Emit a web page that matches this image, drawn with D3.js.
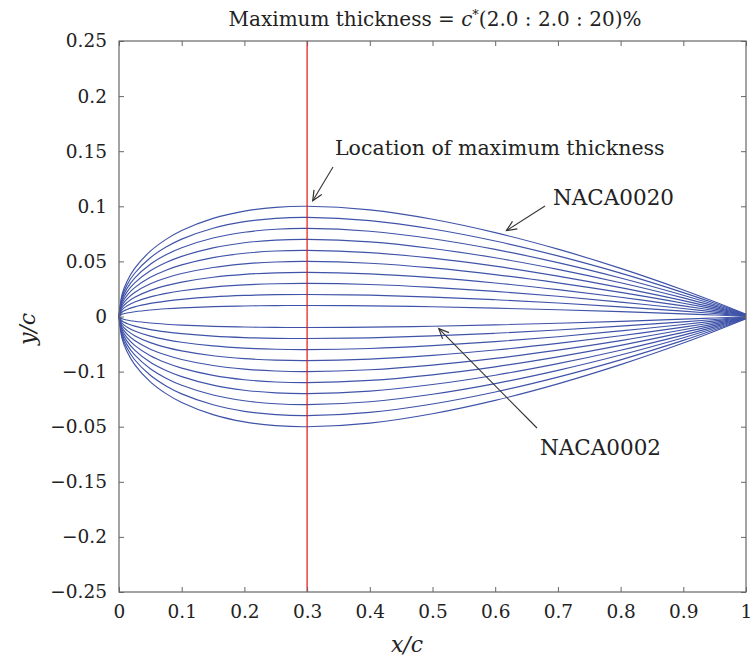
<!DOCTYPE html>
<html>
<head>
<meta charset="utf-8">
<script src="https://cdn.jsdelivr.net/npm/d3@7"></script>
<style>
  body { margin: 0; background: #fff; }
  text { font-family: "DejaVu Serif", "Liberation Serif", serif; fill: #222; }
</style>
</head>
<body>
<svg id="chart"></svg>
<script>
// chord stations and the outer (NACA0020) half thickness
var xStations = [0, 0.005, 0.0125, 0.025, 0.05, 0.075, 0.1, 0.15, 0.2, 0.25, 0.3, 0.4, 0.5, 0.6, 0.7, 0.8, 0.9, 0.95, 1.0];
var outerHalf = [0, 0.0204, 0.0316, 0.0436, 0.0593, 0.070, 0.078, 0.089, 0.0956, 0.099, 0.100, 0.0967, 0.0882, 0.0761, 0.0611, 0.0437, 0.0241, 0.0134, 0.0021];
var outerThickness = 0.20;

// maximum thickness of each airfoil, c*(2.0 : 2.0 : 20)%
var thickness = [0.02, 0.04, 0.06, 0.08, 0.10, 0.12, 0.14, 0.16, 0.18, 0.20];

var maxThicknessLoc = 0.3;

var xTicks = [0, 0.1, 0.2, 0.3, 0.4, 0.5, 0.6, 0.7, 0.8, 0.9, 1];
var xTickLabels = ["0", "0.1", "0.2", "0.3", "0.4", "0.5", "0.6", "0.7", "0.8", "0.9", "1"];
var yTicks = [0.25, 0.2, 0.15, 0.1, 0.05, 0, -0.05, -0.1, -0.15, -0.2, -0.25];
// labels exactly as printed on the original (the two below zero are swapped)
var yTickLabels = ["0.25", "0.2", "0.15", "0.1", "0.05", "0", "\u22120.1", "\u22120.05", "\u22120.15", "\u22120.2", "\u22120.25"];

var width = 753, height = 659;
var margin = {top: 41, right: 7, bottom: 67, left: 119};

var svg = d3.select("#chart")
  .attr("width", width)
  .attr("height", height);

svg.append("rect")
  .attr("width", width)
  .attr("height", height)
  .style("fill", "white");

var x = d3.scaleLinear().domain([0, 1]).range([margin.left, width - margin.right]);
var y = d3.scaleLinear().domain([-0.25, 0.25]).range([height - margin.bottom, margin.top]);

var axisColor = "#666";

// airfoil curves, upper and lower surface drawn separately
var line = d3.line()
  .x(function(d) { return x(d[0]); })
  .y(function(d) { return y(d[1]); })
  .curve(d3.curveCatmullRom.alpha(0.5));

var gCurves = svg.append("g").attr("class", "curves");
thickness.forEach(function(t) {
  [1, -1].forEach(function(side) {
    var pts = xStations.map(function(xs, i) {
      return [xs, side * outerHalf[i] * t / outerThickness];
    });
    gCurves.append("path")
      .datum(pts)
      .attr("d", line)
      .attr("fill", "none")
      .attr("stroke", "#3f53a8")
      .attr("stroke-width", 1.15);
  });
});

// red line at the location of maximum thickness
svg.append("line")
  .attr("x1", x(maxThicknessLoc))
  .attr("x2", x(maxThicknessLoc))
  .attr("y1", y(0.25))
  .attr("y2", y(-0.25))
  .attr("stroke", "#ee1111")
  .attr("stroke-width", 1.2);

// axes box with inward ticks on all four sides
function styleAxis(g) {
  g.select(".domain").remove();
  g.selectAll(".tick line").attr("stroke", axisColor);
  g.selectAll(".tick text")
    .style("font-family", "'DejaVu Serif', serif")
    .style("font-size", "18.5px")
    .attr("fill", "#222");
}

svg.append("g")
  .attr("transform", "translate(" + margin.left + ",0)")
  .call(d3.axisLeft(y).tickValues(yTicks).tickSizeInner(-5).tickSizeOuter(0).tickPadding(12)
    .tickFormat(function(d, i) { return yTickLabels[i]; }))
  .call(styleAxis);

svg.append("g")
  .attr("transform", "translate(" + (width - margin.right) + ",0)")
  .call(d3.axisRight(y).tickValues(yTicks).tickSizeInner(-5).tickSizeOuter(0).tickFormat(""))
  .call(styleAxis);

svg.append("g")
  .attr("transform", "translate(0," + (height - margin.bottom) + ")")
  .call(d3.axisBottom(x).tickValues(xTicks).tickSizeInner(-5).tickSizeOuter(0).tickPadding(13)
    .tickFormat(function(d, i) { return xTickLabels[i]; }))
  .call(styleAxis);

svg.append("g")
  .attr("transform", "translate(0," + margin.top + ")")
  .call(d3.axisTop(x).tickValues(xTicks).tickSizeInner(-5).tickSizeOuter(0).tickFormat(""))
  .call(styleAxis);

svg.append("rect")
  .attr("x", margin.left)
  .attr("y", margin.top)
  .attr("width", width - margin.left - margin.right)
  .attr("height", height - margin.top - margin.bottom)
  .attr("fill", "none")
  .attr("stroke", axisColor)
  .attr("stroke-width", 1.2);

// title
var title = svg.append("text")
  .attr("x", 435)
  .attr("y", 26)
  .attr("text-anchor", "middle")
  .style("font-size", "20px");
title.append("tspan").text("Maximum thickness = ");
title.append("tspan").style("font-style", "italic").text("c");
title.append("tspan").attr("dy", -7).style("font-size", "13px").text("*");
title.append("tspan").attr("dy", 7).text("(2.0 : 2.0 : 20)%");

// axis labels
svg.append("text")
  .attr("x", 407)
  .attr("y", 652)
  .attr("text-anchor", "middle")
  .style("font-size", "22px")
  .style("font-style", "italic")
  .text("x/c");

svg.append("text")
  .attr("transform", "translate(35,329) rotate(-90)")
  .attr("text-anchor", "middle")
  .style("font-size", "22px")
  .style("font-style", "italic")
  .text("y/c");

// annotations with open arrowheads
svg.append("defs").append("marker")
  .attr("id", "arrow")
  .attr("viewBox", "-12 -6 14 12")
  .attr("refX", 0)
  .attr("refY", 0)
  .attr("markerWidth", 14)
  .attr("markerHeight", 12)
  .attr("markerUnits", "userSpaceOnUse")
  .attr("orient", "auto")
  .append("path")
  .attr("d", "M-10,-4.5 L0,0 L-10,4.5")
  .attr("fill", "none")
  .attr("stroke", "#333")
  .attr("stroke-width", 1.2);

var notes = [
  {text: "Location of maximum thickness", tx: 335, ty: 155, size: 20.5, from: [333, 167], to: [x(0.309), y(0.105)]},
  {text: "NACA0020", tx: 553, ty: 205, size: 21.5, from: [545, 206], to: [x(0.618), y(0.078)]},
  {text: "NACA0002", tx: 540, ty: 455, size: 21.5, from: [537, 428], to: [x(0.51), y(-0.011)]}
];

notes.forEach(function(n) {
  svg.append("line")
    .attr("x1", n.from[0]).attr("y1", n.from[1])
    .attr("x2", n.to[0]).attr("y2", n.to[1])
    .attr("stroke", "#333")
    .attr("stroke-width", 1.1)
    .attr("marker-end", "url(#arrow)");
  svg.append("text")
    .attr("x", n.tx)
    .attr("y", n.ty)
    .style("font-size", n.size + "px")
    .text(n.text);
});
</script>
</body>
</html>
